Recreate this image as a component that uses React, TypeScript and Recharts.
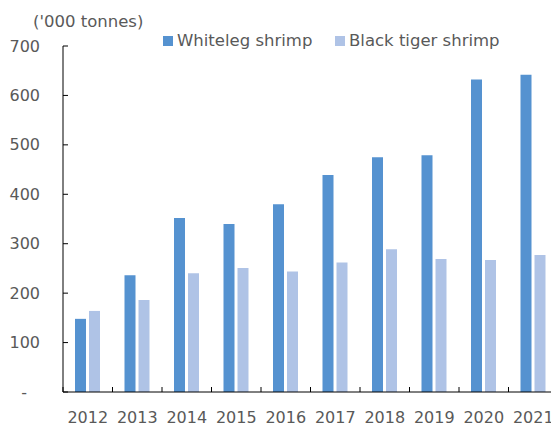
import React from 'react';
import { BarChart, Bar, XAxis, YAxis } from 'recharts';

const years = ['2012', '2013', '2014', '2015', '2016', '2017', '2018', '2019', '2020', '2021'];
const whiteleg = [148, 236, 352, 340, 380, 439, 475, 479, 632, 642];
const blackTiger = [164, 186, 240, 251, 244, 262, 289, 269, 267, 277];
const yTicks = [0, 100, 200, 300, 400, 500, 600, 700];
const seriesNames = ['Whiteleg shrimp', 'Black tiger shrimp'];
const seriesColors = ['#5592D0', '#AFC3E6'];
const unitLabel = "('000 tonnes)";

const data = years.map((y, i) => ({ year: y, whiteleg: whiteleg[i], blackTiger: blackTiger[i] }));

const FONT = '"DejaVu Sans", Verdana, sans-serif';
const TEXT = '#595959';
const X_MARGIN = 25;
const legendLefts = [155, 327];

function XTick(props: any) {
  const { x, y, payload, index, visibleTicksCount, width } = props;
  let off = payload && typeof payload.offset === 'number' ? payload.offset : 0;
  if (!off && width && visibleTicksCount) off = width / visibleTicksCount / 2;
  const axisY = y - X_MARGIN;
  return (
    <g>
      <line x1={x + off} x2={x + off} y1={axisY} y2={axisY - 5} stroke="#000" strokeWidth={1} />
      {index === 0 && <line x1={x - off} x2={x - off} y1={axisY} y2={axisY - 5} stroke="#000" strokeWidth={1} />}
      <text x={x} y={y} textAnchor="middle" dominantBaseline="central" fill={TEXT} fontSize={16} fontFamily={FONT}>
        {payload.value}
      </text>
    </g>
  );
}

function YTick(props: any) {
  const { x, y, payload } = props;
  const isZero = payload.value === 0;
  return (
    <text x={x + (isZero ? -13 : 0)} y={y} textAnchor="end" dominantBaseline="central" fill={TEXT} fontSize={16} fontFamily={FONT}>
      {isZero ? '-' : payload.value}
    </text>
  );
}

export default function App() {
  return (
    <div style={{ position: 'relative', width: 551, height: 417, fontFamily: FONT }}>
      <div style={{ position: 'absolute', left: 25, top: 5, fontSize: 16.5, lineHeight: '18px', color: TEXT, whiteSpace: 'nowrap' }}>
        {unitLabel}
      </div>
      {seriesNames.map((n, i) => (
        <div
          key={n}
          style={{ position: 'absolute', left: legendLefts[i], top: 24, fontSize: 16.5, lineHeight: '18px', color: TEXT, whiteSpace: 'nowrap', display: 'flex', alignItems: 'center', zIndex: 2 }}
        >
          <span style={{ display: 'inline-block', width: 10, height: 10, background: seriesColors[i], marginRight: 4 }} />
          <span>{n}</span>
        </div>
      ))}
      <BarChart
        width={551}
        height={417}
        data={data}
        margin={{ top: 38, right: 1, bottom: 0, left: 0 }}
        barSize={11}
        barGap={3}
      >
        <XAxis
          dataKey="year"
          height={33}
          tickLine={false}
          tickSize={0}
          tickMargin={X_MARGIN}
          axisLine={{ stroke: '#000', strokeWidth: 1 }}
          tick={<XTick />}
          interval={0}
        />
        <YAxis
          width={55}
          domain={[0, 700]}
          ticks={yTicks}
          interval={0}
          tickSize={-5}
          tickMargin={28}
          tickLine={{ stroke: '#000', strokeWidth: 1 }}
          axisLine={{ stroke: '#000', strokeWidth: 1 }}
          tick={<YTick />}
        />
        <Bar dataKey="whiteleg" name={seriesNames[0]} fill={seriesColors[0]} isAnimationActive={false} />
        <Bar dataKey="blackTiger" name={seriesNames[1]} fill={seriesColors[1]} isAnimationActive={false} />
      </BarChart>
    </div>
  );
}
